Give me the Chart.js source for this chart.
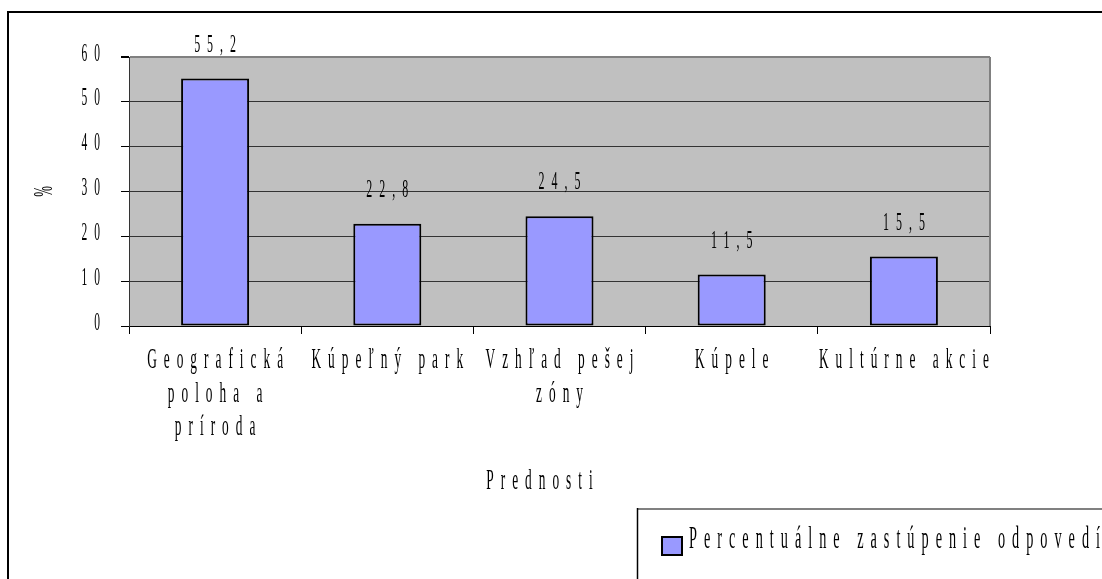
<!DOCTYPE html>
<html><head><meta charset="utf-8">
<style>html,body{margin:0;padding:0;background:#fff;overflow:hidden}canvas{display:block}</style>
<script src="https://cdn.jsdelivr.net/npm/chart.js@4.4.1/dist/chart.umd.min.js"></script>
</head><body>
<canvas id="c" width="1102" height="579"></canvas>
<script>
// ---- data ----
const categories = [
  ["Geografická", "poloha a", "príroda"],
  ["Kúpeľný park"],
  ["Vzhľad pešej", "zóny"],
  ["Kúpele"],
  ["Kultúrne akcie"]
];
const values = [55.2, 22.8, 24.5, 11.5, 15.5];
const seriesLabel = "Percentuálne zastúpenie odpovedí";
const xTitle = "Prednosti";
const yTitle = "%";
const yMin = 0, yMax = 60, yStep = 10;

// ---- text rendering (condensed, letter-spaced serif look) ----
const FONT = "'Liberation Serif', 'Times New Roman', serif";
const SX = 0.46;  // horizontal glyph compression
const LS = 7;     // letter spacing in px
const canvas = document.getElementById('c');
const ctx = canvas.getContext('2d');
(function patch(c) {
  const oFill = c.fillText.bind(c);
  const oMeasure = c.measureText.bind(c);
  const hasLS = ('letterSpacing' in c);
  c.__dx = 0; c.__dy = 0;
  function nat(t) {
    if (hasLS) { const p = c.letterSpacing; c.letterSpacing = '0px'; const w = oMeasure(t).width; c.letterSpacing = p; return w; }
    return oMeasure(t).width;
  }
  function wid(t) { const n = [...t].length; return nat(t) * SX + LS * Math.max(0, n - 1); }
  c.measureText = function (t) {
    t = String(t);
    const m = oMeasure(t);
    const w = wid(t);
    return { width: w, actualBoundingBoxAscent: m.actualBoundingBoxAscent, actualBoundingBoxDescent: m.actualBoundingBoxDescent,
      actualBoundingBoxLeft: 0, actualBoundingBoxRight: w, fontBoundingBoxAscent: m.fontBoundingBoxAscent, fontBoundingBoxDescent: m.fontBoundingBoxDescent };
  };
  c.fillText = function (t, x, y) {
    t = String(t);
    if (!t) return;
    const W = wid(t);
    const a = c.textAlign;
    const x0 = a === 'center' ? -W / 2 : (a === 'right' || a === 'end') ? -W : 0;
    c.save();
    c.translate(x + c.__dx + x0, y + c.__dy);
    c.scale(SX, 1);
    c.textAlign = 'left';
    if (hasLS) {
      c.letterSpacing = (LS / SX) + 'px';
      oFill(t, 0, 0);
    } else {
      let cx = 0;
      for (const ch of [...t]) { oFill(ch, cx, 0); cx += oMeasure(ch).width + LS / SX; }
    }
    c.restore();
  };
})(ctx);

// ---- plugins ----
const decor = {
  id: 'decor',
  afterLayout(chart) {
    const c = chart.ctx;
    const ys = chart.scales.y, xs = chart.scales.x;
    if (ys && !ys.__w) { const o = ys.drawLabels; ys.drawLabels = function (a) { c.__dy = -3; o.call(this, a); c.__dy = 0; }; ys.__w = true; }
    if (xs && !xs.__w) { const o = xs.drawTitle; xs.drawTitle = function (a) { c.__dx = -20; o.call(this, a); c.__dx = 0; }; xs.__w = true; }
  },
  beforeDraw(chart) {
    const c = chart.ctx, a = chart.chartArea;
    c.save();
    c.fillStyle = '#C0C0C0';
    c.fillRect(a.left, a.top, a.right - a.left, a.bottom - a.top);
    c.restore();
  },
  beforeDatasetsDraw(chart) {
    const c = chart.ctx, a = chart.chartArea;
    c.save();
    c.strokeStyle = '#808080'; c.lineWidth = 2;
    c.beginPath(); c.moveTo(a.right, a.top); c.lineTo(a.right, a.bottom); c.stroke();
    c.restore();
  },
  afterDatasetsDraw(chart) {
    const c = chart.ctx;
    const meta = chart.getDatasetMeta(0);
    const data = chart.data.datasets[0].data;
    c.save();
    c.font = '26px ' + FONT;
    c.fillStyle = '#000';
    c.textAlign = 'center';
    c.textBaseline = 'middle';
    meta.data.forEach((bar, i) => {
      c.fillText(data[i].toFixed(1).replace('.', ','), bar.x, bar.y - 33.5);
    });
    c.restore();
  },
  afterDraw(chart) {
    const c = chart.ctx;
    const W = chart.width, H = chart.height;
    const ds = chart.data.datasets[0];
    c.save();
    // outer chart border
    c.strokeStyle = '#000'; c.lineWidth = 2;
    c.beginPath(); c.moveTo(8, H + 2); c.lineTo(8, 12); c.lineTo(W + 2, 12); c.stroke();
    // legend box
    c.strokeStyle = '#808080'; c.lineWidth = 2;
    c.beginPath(); c.moveTo(637, 509); c.lineTo(W + 2, 509); c.stroke();
    c.strokeStyle = '#000'; c.lineWidth = 1.5;
    c.beginPath(); c.moveTo(637.5, 508); c.lineTo(637.5, H + 2); c.stroke();
    // legend swatch
    c.fillStyle = ds.backgroundColor;
    c.fillRect(662, 537, 20, 18);
    c.strokeStyle = '#000'; c.lineWidth = 2;
    c.strokeRect(662, 537, 20, 18);
    // legend text
    c.font = '31px ' + FONT;
    c.fillStyle = '#000';
    c.textAlign = 'left';
    c.textBaseline = 'alphabetic';
    c.fillText(ds.label, 689, 548);
    c.restore();
  }
};

Chart.defaults.font.family = FONT;
Chart.defaults.color = '#000';

new Chart(ctx, {
  type: 'bar',
  data: {
    labels: categories,
    datasets: [{
      label: seriesLabel,
      data: values,
      backgroundColor: '#9999FF',
      borderColor: '#000',
      borderWidth: 2,
      borderSkipped: false,
      barPercentage: 0.395,
      categoryPercentage: 1.0
    }]
  },
  options: {
    responsive: false,
    animation: false,
    devicePixelRatio: 1,
    layout: { padding: { left: 0, top: 57, right: 112, bottom: 0 } },
    plugins: { legend: { display: false }, tooltip: { enabled: false } },
    scales: {
      x: {
        offset: true,
        grid: { display: true, drawOnChartArea: false, drawTicks: true, tickLength: 8, offset: true, color: '#000', tickColor: '#000' },
        border: { display: true, color: '#000', width: 1 },
        ticks: { autoSkip: false, maxRotation: 0, minRotation: 0, padding: 10, color: '#000',
          font: { size: 29, lineHeight: 1.155 } },
        title: { display: true, text: xTitle, color: '#000', font: { size: 29, lineHeight: 1.2 }, padding: { top: 0, bottom: 80 } },
        afterFit(s) { s.height = 253; }
      },
      y: {
        min: yMin, max: yMax,
        grid: {
          color: (c) => c.tick && c.tick.value === yMax ? '#808080' : (c.tick && c.tick.value === yMin ? '#000' : '#333'),
          lineWidth: (c) => c.tick && c.tick.value === yMax ? 2 : 1,
          tickColor: '#000', tickLength: 8, drawTicks: true
        },
        border: { display: true, color: '#333', width: 1 },
        ticks: { stepSize: yStep, padding: 21, color: '#000', font: { size: 25 } },
        title: { display: true, text: yTitle, color: '#000', font: { size: 28, lineHeight: 1.2 }, padding: { top: 28, bottom: 0 } },
        afterFit(s) { s.width = 129; }
      }
    }
  },
  plugins: [decor]
});
</script>
</body></html>
